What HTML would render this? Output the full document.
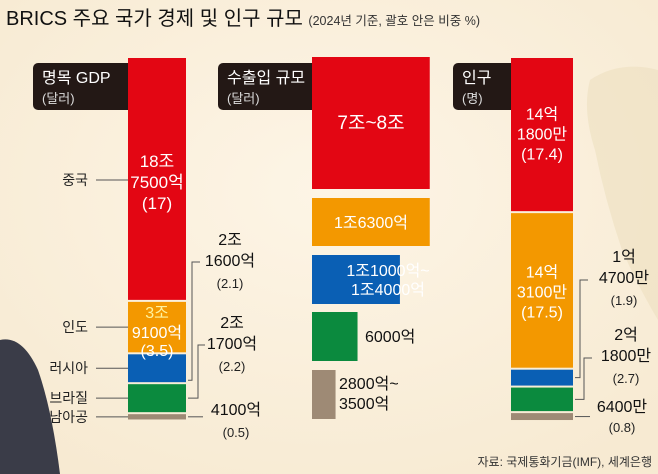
<!DOCTYPE html>
<html><head><meta charset="utf-8"><style>
html,body{margin:0;padding:0;background:#fbf1df;}
svg{display:block;font-family:"Liberation Sans","Noto Sans CJK KR",sans-serif;}
</style></head><body>
<svg id="c" width="658" height="474" viewBox="0 0 658 474">
<defs>
<radialGradient id="bg" cx="0.5" cy="0.4" r="0.7"><stop offset="0" stop-color="#fdf5e6"/><stop offset="1" stop-color="#f7ead2"/></radialGradient>
</defs>
<rect width="658" height="474" fill="url(#bg)"/>
<path d="M590 80 Q620 60 658 70 L658 320 Q640 290 622 250 Q605 200 595 150 Q582 110 590 80Z" fill="#eddfc0" opacity="0.6"/>
<path d="M0 340 Q22 335 38 370 Q52 410 60 474 L0 474Z" fill="#3a3c48"/>
<text x="6" y="25" font-size="20" fill="#111">BRICS 주요 국가 경제 및 인구 규모 <tspan font-size="12.5" fill="#333">(2024년 기준, 괄호 안은 비중 %)</tspan></text>
<g id="g"></g>
<text x="652" y="466" font-size="12" fill="#333" text-anchor="end">자료: 국제통화기금(IMF), 세계은행</text>
</svg>
<script>
const countries=["중국","인도","러시아","브라질","남아공"];
const colors=["#e30613","#f39800","#0a5fb4","#0b8a3e","#9e8a75"];
const gdpValues=[18.75,3.91,2.16,2.17,0.41];
const gdpLabels=[["18조","7500억","(17)"],["3조","9100억","(3.5)"],["2조","1600억","(2.1)"],["2조","1700억","(2.2)"],["4100억","(0.5)"]];
const tradeSize=[7.5,7.5,5.6,2.9,1.5];
const tradeLabels=[["7조~8조"],["1조6300억"],["1조1000억~","1조4000억"],["6000억"],["2800억~","3500억"]];
const popValues=[14.18,14.31,1.47,2.18,0.64];
const popLabels=[["14억","1800만","(17.4)"],["14억","3100만","(17.5)"],["1억","4700만","(1.9)"],["2억","1800만","(2.7)"],["6400만","(0.8)"]];

const NS="http://www.w3.org/2000/svg",G=document.getElementById('g');
function mk(t,a,txt){const e=document.createElementNS(NS,t);for(const k in a)e.setAttribute(k,a[k]);if(txt!=null)e.textContent=txt;G.appendChild(e);return e;}
function lines(x,y,arr,fill,anchor,size,lh){arr.forEach((s,i)=>{const t=mk('text',{x:x,y:y+i*lh,'font-size':size,fill:fill,'text-anchor':anchor},s);

});}
function header(x,w,t1,t2,name){const r=mk('rect',{x:x,y:63,width:w,height:47,rx:5,fill:'#231815'});


mk('text',{x:x+9,y:83,'font-size':16,fill:'#fff'},t1);mk('text',{x:x+9,y:103,'font-size':13,fill:'#ddd'},t2);}
header(33,100,"명목 GDP","(달러)","gdp-header");
header(218,100,"수출입 규모","(달러)","trade-header");
header(453,63,"인구","(명)","population-header");

const gs=12.9,gap=2;let y=58;const gdpY=[];
gdpValues.forEach((v,i)=>{const h=v*gs;const r=mk('rect',{x:128,y:y,width:58,height:h,fill:colors[i]});


gdpY.push([y,h]);y+=h+gap;});
countries.forEach((c,i)=>{const cy=gdpY[i][0]+gdpY[i][1]/2;const ly=i==0?180:cy;
const t=mk('text',{x:88,y:ly+5,'font-size':14,fill:'#222','text-anchor':'end'},c);


mk('line',{x1:96,y1:ly,x2:128,y2:ly,stroke:'#555','stroke-width':1});});
lines(157,gdpY[0][0]+gdpY[0][1]/2-12,gdpLabels[0],'#fff','middle',17,21);
mk('text',{x:157,y:gdpY[1][0]+16,'font-size':16,fill:'#fff3a0','text-anchor':'middle'},gdpLabels[1][0]);
lines(157,gdpY[1][0]+36,gdpLabels[1].slice(1),'#fff','middle',16,18);
function conn(x0,yb,xm,yt,x1){mk('polyline',{points:`${x0},${yb} ${xm},${yb} ${xm},${yt} ${x1},${yt}`,fill:'none',stroke:'#555','stroke-width':1});}
let ry=gdpY[2][0]+gdpY[2][1]/2+2;conn(188,ry+10,192,262,200);lines(230,245,gdpLabels[2].slice(0,2),'#111','middle',16,21);lines(230,288,[gdpLabels[2][2]],'#222','middle',13,0);
ry=gdpY[3][0]+gdpY[3][1]/2;conn(188,ry,198,345,205);lines(232,328,gdpLabels[3].slice(0,2),'#111','middle',16,21);lines(232,371,[gdpLabels[3][2]],'#222','middle',13,0);
ry=gdpY[4][0]+gdpY[4][1]/2;mk('line',{x1:188,y1:ry,x2:203,y2:ry,stroke:'#555'});lines(236,415,[gdpLabels[4][0]],'#111','middle',16,0);lines(236,437,[gdpLabels[4][1]],'#222','middle',13,0);

const tw=15.7,tY=[57,198,255,312,370],tH=[132,48,49,49,49];
tradeSize.forEach((v,i)=>{const r=mk('rect',{x:312,y:tY[i],width:v*tw,height:tH[i],fill:colors[i]});

});
lines(371,129,tradeLabels[0],'#fff','middle',19,0);
lines(371,228,tradeLabels[1],'#fff','middle',16,0);
lines(388,276,tradeLabels[2],'#fff','middle',16,19);
lines(365,342,tradeLabels[3],'#111','start',16,0);
lines(339,389,tradeLabels[4],'#111','start',16,20);

const ps=10.8;y=58;const pY=[];
popValues.forEach((v,i)=>{const h=Math.max(v*ps,4);const r=mk('rect',{x:511,y:y,width:62,height:h,fill:colors[i]});


pY.push([y,h]);y+=h+2;});
lines(542,pY[0][0]+pY[0][1]/2-15,popLabels[0],'#fff','middle',16,20);
lines(542,pY[1][0]+pY[1][1]/2-13,popLabels[1],'#fff','middle',16,20);
ry=pY[2][0]+pY[2][1]/2;conn(575,ry,580,280,588);lines(624,262,popLabels[2].slice(0,2),'#111','middle',16,21);lines(624,305,[popLabels[2][2]],'#222','middle',13,0);
ry=pY[3][0]+pY[3][1]/2;conn(575,ry,584,358,592);lines(626,340,popLabels[3].slice(0,2),'#111','middle',16,21);lines(626,383,[popLabels[3][2]],'#222','middle',13,0);
ry=pY[4][0]+pY[4][1]/2;mk('line',{x1:575,y1:ry,x2:590,y2:ry,stroke:'#555'});lines(622,412,[popLabels[4][0]],'#111','middle',16,0);lines(622,432,[popLabels[4][1]],'#222','middle',13,0);
</script>
</body></html>
